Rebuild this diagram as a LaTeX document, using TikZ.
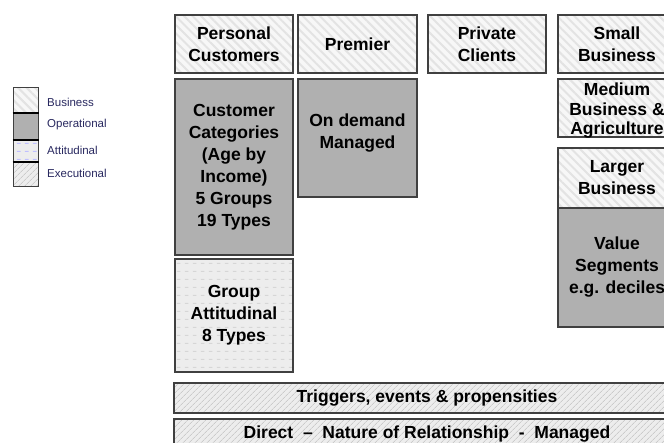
\documentclass[tikz,border=0pt]{standalone}
\usepackage{fontspec}
\setmainfont{Liberation Sans}
\usepackage{xcolor}
\usepackage{tikz}
\usetikzlibrary{shapes,calc,patterns,patterns.meta,positioning}

\definecolor{legendblue}{RGB}{40,40,95}

% horizontal dashes for the attitudinal fill
\pgfdeclarepatternformonly{hdashes}{\pgfpointorigin}{\pgfpoint{8pt}{8pt}}{\pgfpoint{8pt}{8pt}}{
    \pgfsetlinewidth{1.1pt}
    \pgfpathmoveto{\pgfpoint{1pt}{4pt}}
    \pgfpathlineto{\pgfpoint{5pt}{4pt}}
    \pgfusepath{stroke}
}

\tikzstyle{tsBoldText} = [
    text=black,
    font=\bfseries\fontsize{17.5}{22}\selectfont
]
\tikzstyle{tsBox} = [
    rectangle,
    tsBoldText,
    align=center,
    inner sep=0pt,
    draw=black!75,
    line width=1.3pt
]
\tikzstyle{tsBusiness} = [
    tsBox,
    preaction={fill=gray!6},
    pattern={Lines[angle=-45,distance=6pt,line width=2pt]},
    pattern color=gray!22
]
\tikzstyle{tsOperational} = [
    tsBox,
    fill=gray!62
]
\tikzstyle{tsAttitudinal} = [
    tsBox,
    preaction={fill=gray!14},
    pattern=hdashes,
    pattern color=gray!32
]
\tikzstyle{tsExecutional} = [
    tsBox,
    preaction={fill=gray!14},
    pattern={Lines[angle=45,distance=4pt,line width=0.6pt]},
    pattern color=gray!55
]
\tikzstyle{tsLegendText} = [
    text=legendblue,
    font=\fontsize{11.5}{13}\selectfont,
    anchor=west,
    inner sep=0pt
]

\begin{document}
\begin{tikzpicture}[x=1pt, y=-1pt]
    \clip (0,0) rectangle (664,443);

    % Legend
    \node[tsBusiness, line width=1pt, minimum width=25, minimum height=25] (lgBus) at (25.5,100.5) {};
    \node[tsOperational, line width=1pt, minimum width=25, minimum height=27] (lgOpe) at (25.5,126.5) {};
    \node[tsAttitudinal, line width=1pt, minimum width=25, minimum height=22, pattern color=blue!25] (lgAtt) at (25.5,151) {};
    \node[tsExecutional, line width=1pt, minimum width=25, minimum height=25] (lgExe) at (25.5,174.5) {};
    \draw[line width=2pt] (lgBus.south west) -- (lgBus.south east);
    \draw[line width=2pt] (lgOpe.south west) -- (lgOpe.south east);
    \draw[line width=2pt] (lgAtt.south west) -- (lgAtt.south east);

    \node[tsLegendText] (lgBusText) at (47,102) {Business};
    \node[tsLegendText] (lgOpeText) at (47,125) {Operational};
    \node[tsLegendText] (lgAttText) at (47,150) {Attitudinal};
    \node[tsLegendText] (lgExeText) at (47,173) {Executional};

    % Top row
    \node[tsBusiness, minimum width=118, minimum height=58] (pc) at (234,44) {Personal\\Customers};
    \node[tsBusiness, minimum width=119, minimum height=58] (pr) at (357.5,44) {Premier};
    \node[tsBusiness, minimum width=118, minimum height=58] (pv) at (487,44) {Private\\Clients};
    \node[tsBusiness, minimum width=118, minimum height=58] (sb) at (617,44) {Small\\Business};

    % Personal customers column
    \node[tsOperational, minimum width=118, minimum height=176] (cc) at (234,167)
        {Customer\\Categories\\(Age by\\Income)\\5 Groups\\19 Types};
    \node[tsAttitudinal, minimum width=118, minimum height=113] (ga) at (234,315.5)
        {Group\\Attitudinal\\8 Types};

    % Premier column
    \node[tsOperational, minimum width=119, minimum height=118] (od) at (357.5,138) {};
    \node[tsBoldText, align=center, inner sep=0pt] (odText) at (357.5,133) {On demand\\Managed};

    % Business column
    \node[tsBusiness, minimum width=118, minimum height=58] (mb) at (617,108) {};
    \node[tsBoldText, align=center, inner sep=0pt,
          font=\bfseries\fontsize{17.5}{19.5}\selectfont] (mbText) at (617,111)
        {Medium\\Business \&\\Agriculture};
    \node[tsBusiness, minimum width=118, minimum height=60] (lb) at (617,178) {Larger\\Business};
    \node[tsOperational, minimum width=118, minimum height=119] (vs) at (617,267.5)
        {Value\\Segments\\e.g. deciles};

    % Bottom bars
    \node[tsExecutional, minimum width=506, minimum height=30] (tr) at (427,398)
        {Triggers, events \& propensities};
    \node[tsExecutional, minimum width=506, minimum height=30] (dr) at (427,434)
        {Direct\ \ --\ \ Nature of Relationship\ \ -\ \ Managed};
\end{tikzpicture}
\end{document}
